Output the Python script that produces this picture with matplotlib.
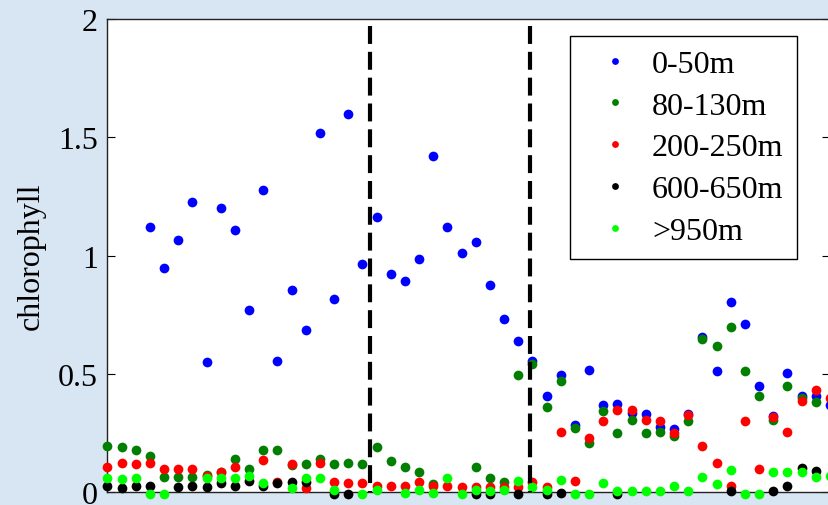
import numpy as np
import matplotlib
matplotlib.use("Agg")
import matplotlib.pyplot as plt

nan = np.nan

# station index along the section (52 casts, last one cut at the frame)
station = np.arange(52)

chl_0_50 = [nan, nan, nan, 1.120, 0.946, 1.064, 1.226, 0.548, 1.199, 1.109,
            0.770, 1.278, 0.554, 0.854, 0.685, 1.519, 0.815, 1.598, 0.965, 1.161,
            0.920, 0.894, 0.985, 1.422, 1.122, 1.011, 1.056, 0.874, 0.730, 0.638,
            0.555, 0.405, 0.496, 0.282, 0.516, 0.367, 0.373, 0.332, 0.329, 0.276,
            0.265, 0.328, 0.655, 0.510, 0.803, 0.712, 0.450, 0.320, 0.503, 0.407,
            0.406, 0.367]
chl_80_130 = [0.196, 0.189, 0.176, 0.152, 0.065, 0.065, 0.065, 0.072, 0.085, 0.138,
              0.099, 0.176, 0.176, 0.115, 0.117, 0.140, 0.117, 0.124, 0.117, 0.189,
              0.131, 0.104, 0.084, 0.035, nan, nan, 0.104, 0.058, 0.041, 0.495,
              0.541, 0.358, 0.468, 0.272, 0.207, 0.344, 0.248, 0.306, 0.248, 0.255,
              0.238, 0.300, 0.647, 0.619, 0.697, 0.510, 0.405, 0.306, 0.450, 0.398,
              0.379, nan]
chl_200_250 = [0.104, 0.123, 0.117, 0.124, 0.097, 0.097, 0.097, 0.068, 0.083, 0.106,
               nan, 0.137, 0.042, 0.117, 0.017, 0.123, 0.041, 0.040, 0.040, 0.027,
               0.027, 0.027, 0.041, 0.024, 0.024, 0.020, 0.020, 0.020, 0.022, 0.020,
               0.041, 0.020, 0.255, 0.045, 0.228, 0.300, 0.345, 0.345, 0.306, 0.300,
               0.248, 0.327, 0.196, 0.124, 0.024, 0.300, 0.099, 0.316, 0.255, 0.386,
               0.431, 0.397]
chl_600_650 = [0.024, 0.018, 0.027, 0.025, nan, 0.020, 0.027, 0.020, 0.037, 0.025,
               0.045, 0.027, 0.039, 0.042, 0.041, nan, -0.010, -0.009, nan, nan,
               nan, nan, nan, nan, nan, nan, -0.008, -0.008, nan, -0.008,
               nan, -0.008, -0.006, nan, nan, nan, -0.008, nan, nan, nan,
               nan, nan, nan, nan, 0.006, nan, nan, 0.006, 0.027, 0.102,
               0.088, nan]
chl_950 = [0.059, 0.054, 0.059, -0.007, -0.007, nan, nan, 0.059, 0.059, 0.059,
           0.066, 0.038, nan, 0.018, 0.059, 0.059, 0.008, nan, -0.007, 0.008,
           nan, -0.004, 0.007, -0.006, 0.059, -0.007, 0.007, 0.003, 0.008, 0.046,
           0.020, 0.007, 0.051, -0.008, -0.008, 0.038, 0.006, 0.006, 0.006, 0.006,
           0.025, 0.006, 0.065, 0.034, 0.092, -0.008, -0.008, 0.085, 0.084, 0.085,
           0.065, 0.069]

labels = ["0-50m", "80-130m", "200-250m", "600-650m", ">950m"]
colors = ["#0000ff", "#007f00", "#ff0000", "#000000", "#00ff00"]
boundaries = [18.5, 29.8]

plt.rcParams["font.family"] = ["Liberation Serif", "DejaVu Serif"]

W, H = 829, 506
fig = plt.figure(figsize=(W / 100, H / 100), dpi=100, facecolor="#d8e5f2")
x0, x1, y0, y1 = 107.5, 830.0, 20.0, 493.0
ax = fig.add_axes([x0 / W, (H - y1) / H, (x1 - x0) / W, (y1 - y0) / H])

for vals, lab, c in zip([chl_0_50, chl_80_130, chl_200_250, chl_600_650, chl_950],
                        labels, colors):
    ax.plot(station, vals, ls="none", marker="o", ms=7, mew=0, color=c,
            label=lab, clip_on=False, zorder=3)

for b in boundaries:
    ax.plot([b, b], [1.97, 0], color="black", lw=3, ls=(0, (4.3, 1.9)), zorder=4)

ax.set_xlim(0, 51)
ax.set_ylim(0, 2)
ax.set_xticks([])
ax.set_yticks([0, 0.5, 1, 1.5, 2])
ax.set_yticklabels(["0", "0.5", "1", "1.5", "2"])
ax.tick_params(axis="y", direction="in", length=6, width=0.8, labelsize=23,
               pad=7, right=True)
for s in ax.spines.values():
    s.set_linewidth(1.0)
    s.set_color("#222222")

ax.set_ylabel("chlorophyll", fontsize=23)
ax.yaxis.set_label_coords(-0.086, 0.5)

leg = ax.legend(loc="upper right", bbox_to_anchor=((797 - x0) / (x1 - x0), (y1 - 37) / (y1 - y0)),
                borderaxespad=0, fontsize=23, markerscale=0.7, handlelength=2.0,
                handletextpad=0.15, labelspacing=0.39, borderpad=0.42,
                fancybox=False, framealpha=1, edgecolor="black")
leg.get_frame().set_linewidth(1.0)

fig.savefig("out.png", dpi=100, facecolor=fig.get_facecolor())
